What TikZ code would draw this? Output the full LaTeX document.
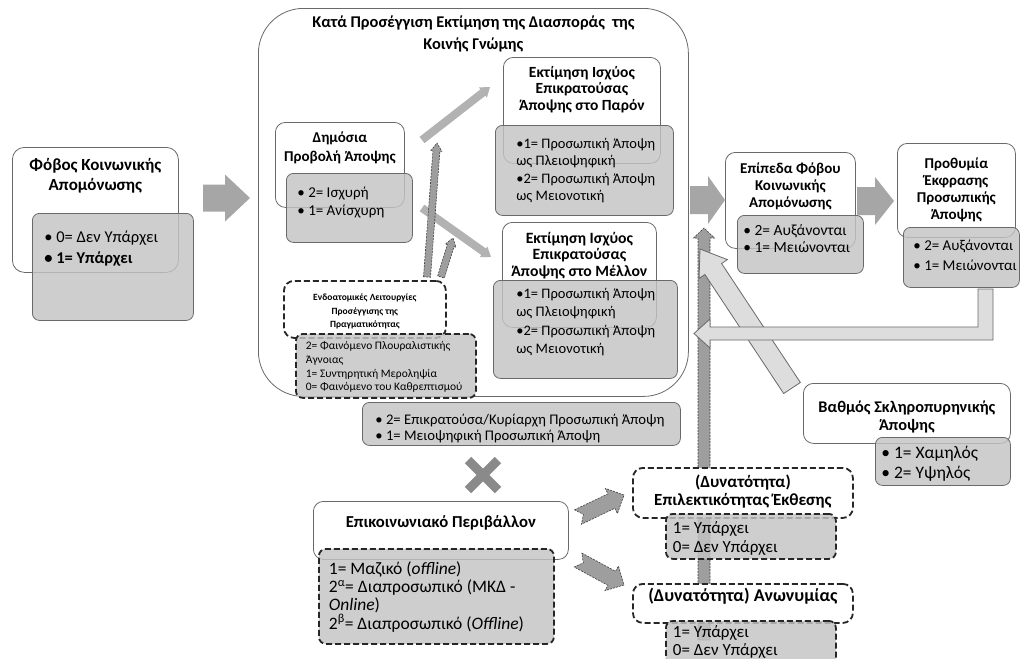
\documentclass[tikz,border=0pt]{standalone}
\usepackage{fontspec}
\setmainfont{Carlito}
\usetikzlibrary{positioning}

\definecolor{edge}{RGB}{105,105,105}
\definecolor{boxgray}{RGB}{196,196,196}
\definecolor{arrgray}{RGB}{166,166,166}
\definecolor{thingray}{RGB}{178,178,178}
\definecolor{dashgray}{RGB}{158,158,158}
\definecolor{lightarr}{RGB}{221,221,221}
\definecolor{xgray}{RGB}{138,138,138}

\newcommand\fs[2]{\fontsize{#1}{#2}\selectfont}
\newcommand\titlebox[4]{\parbox[t][#2pt][t]{#1pt}{\vspace*{#3pt}\centering\strut#4\par}}
\newcommand\itembox[5]{\parbox[t][#2pt][t]{#1pt}{\vspace*{#3pt}\raggedright\leftskip=#4pt\strut#5\par}}
% block arrow: style, from, to, half shaft, half head, head length, notch
\newcommand\blockarr[7]{%
  \pgfpointdiff{\pgfpointanchor{#2}{center}}{\pgfpointanchor{#3}{center}}%
  \pgfgetlastxy\bdx\bdy
  \pgfmathsetmacro\barlen{veclen(\bdx,\bdy)}%
  \pgfmathsetmacro\barang{atan2(\bdy,\bdx)}%
  \path[#1, shift={(#2)}, rotate=\barang]
    (0,-#4) -- (\barlen-#6,-#4) -- (\barlen-#6,-#5) -- (\barlen,0)
    -- (\barlen-#6,#5) -- (\barlen-#6,#4) -- (0,#4) -- (#7,0) -- cycle;}

\begin{document}
\begin{tikzpicture}[x=1pt, y=-1pt,
  wbox/.style={draw=edge, line width=0.8pt, fill=white, rounded corners=10pt,
               inner sep=0pt, anchor=north west},
  gbox/.style={draw=edge, line width=0.8pt, fill=boxgray, fill opacity=0.82,
               text opacity=1, rounded corners=7pt, inner sep=0pt, anchor=north west},
  dbox/.style={draw=black!85, line width=1.8pt, dash pattern=on 6pt off 3pt},
  barr/.style={fill=arrgray},
  tarr/.style={fill=thingray},
  darr/.style={fill=dashgray, draw=black!75, line width=0.6pt, dash pattern=on 2pt off 1.2pt},
  larr/.style={fill=lightarr, draw=edge, line width=0.8pt}
]
\useasboundingbox (0,0) rectangle (1021,659);
\fill[white] (0,0) rectangle (1021,659);

\node[wbox, rounded corners=45pt, font={\fs{16.4}{22}\bfseries}] (spread) at (258,8)
  {\titlebox{430}{388}{3.6}{Κατά Προσέγγιση Εκτίμηση της Διασποράς \ της\\Κοινής Γνώμης}};

\coordinate (fear-o) at (203,198);   \coordinate (spread-i) at (250,198);
\coordinate (spread-o) at (690,200); \coordinate (lvl-i) at (725,200);
\coordinate (lvl-o) at (857,201);    \coordinate (will-i) at (894,201);
\coordinate (pub-a) at (422,140);    \coordinate (now-i) at (490,87);
\coordinate (pub-b) at (422,208);    \coordinate (fut-i) at (491,257);
\coordinate (intra-a) at (427,277);  \coordinate (intra-ae) at (437,143);
\coordinate (intra-b) at (441,277);  \coordinate (intra-be) at (453,238);
\coordinate (anon-o) at (704,640);   \coordinate (lvl-b) at (704,228);
\coordinate (hard-o) at (792,388);   \coordinate (lvl-c) at (700,249);
\coordinate (env-a) at (578,517);    \coordinate (sel-i) at (624,495);
\coordinate (env-b) at (578,560);    \coordinate (anon-i) at (624,585);
\coordinate (cross) at (483,475);

\blockarr{barr}{fear-o}{spread-i}{13.5}{23.5}{25}{0}
\blockarr{barr}{spread-o}{lvl-i}{14}{24}{17}{0}
\blockarr{barr}{lvl-o}{will-i}{14}{24}{19}{0}
\blockarr{tarr}{pub-a}{now-i}{4}{6.5}{9}{0}
\blockarr{tarr}{pub-b}{fut-i}{4}{6.5}{9}{0}
\blockarr{darr}{intra-a}{intra-ae}{3.5}{5.5}{8}{0}
\blockarr{darr}{intra-b}{intra-be}{3.5}{5.5}{8}{0}
\blockarr{darr}{anon-o}{lvl-b}{6}{10.5}{10}{0}
\blockarr{larr}{hard-o}{lvl-c}{10}{17}{24}{0}
\blockarr{darr}{env-a}{sel-i}{8}{14}{14}{6}
\blockarr{darr}{env-b}{anon-i}{8}{14}{14}{6}
\draw[larr] (978,289) -- (993,289) -- (993,340) -- (710,340) -- (710,348)
  -- (694,333.5) -- (710,319) -- (710,327) -- (978,327) -- cycle;
\draw[xgray, line width=9pt] (cross) +(-15,-15) -- +(15,15) +(-15,15) -- +(15,-15);

\node[wbox, rounded corners=12pt, font={\fs{17}{20}\bfseries}] (fear) at (12,147)
  {\titlebox{166}{125}{9}{Φόβος Κοινωνικής\\Απομόνωσης}};
\node[gbox, font={\fs{16.5}{21}}] (fear-v) at (32,213)
  {\itembox{161}{107}{14.3}{12}{• 0= Δεν Υπάρχει\\\textbf{• 1= Υπάρχει}}};

\node[wbox, font={\fs{15}{19}\bfseries}] (pub) at (275,122)
  {\titlebox{129}{85}{6.7}{Δημόσια\\Προβολή Άποψης}};
\node[gbox, font={\fs{15}{18}}] (pub-v) at (286,173)
  {\itembox{126}{69}{11.4}{11}{• 2= Ισχυρή\\• 1= Ανίσχυρη}};

\node[wbox, font={\fs{15.5}{16.5}\bfseries}] (now) at (503,57)
  {\titlebox{157}{106}{8.5}{Εκτίμηση Ισχύος\\Επικρατούσας\\Άποψης στο Παρόν}};
\node[gbox, font={\fs{14.5}{17.3}}] (now-v) at (495,125)
  {\itembox{178}{90}{10.9}{21}{•1= Προσωπική Άποψη\\ως Πλειοψηφική\\•2= Προσωπική Άποψη\\ως Μειονοτική}};

\node[wbox, font={\fs{15.7}{16.5}\bfseries}] (fut) at (502,222)
  {\titlebox{154}{105}{9.5}{Εκτίμηση Ισχύος\\Επικρατούσας\\Άποψης στο Μέλλον}};
\node[gbox, font={\fs{14.5}{18.3}}] (fut-v) at (493,280)
  {\itembox{184}{98}{5.2}{23}{•1= Προσωπική Άποψη\\ως Πλειοψηφική\\•2= Προσωπική Άποψη\\ως Μειονοτική}};

\node[wbox, dbox, font={\fs{9.5}{13.5}\bfseries}] (intra) at (283,280)
  {\titlebox{162}{57}{10.5}{Ενδοατομικές Λειτουργίες\\Προσέγγισης της\\Πραγματικότητας}};
\node[gbox, dbox, font={\fs{11.5}{13.7}}] (intra-v) at (295,333)
  {\itembox{180}{64}{6.4}{10}{2= Φαινόμενο Πλουραλιστικής\\Άγνοιας\\1= Συντηρητική Μεροληψία\\0= Φαινόμενο του Καθρεπτισμού}};

\node[gbox, font={\fs{14.7}{16}}] (dom) at (362,402)
  {\itembox{318}{43}{10.8}{13}{• 2= Επικρατούσα/Κυρίαρχη Προσωπική Άποψη\\• 1= Μειοψηφική Προσωπική Άποψη}};

\node[wbox, font={\fs{15}{17}\bfseries}] (lvl) at (725,152)
  {\titlebox{130}{96}{9.1}{Επίπεδα Φόβου\\Κοινωνικής\\Απομόνωσης}};
\node[gbox, font={\fs{15.5}{17}}] (lvl-v) at (737,215)
  {\itembox{126}{58}{8.1}{6}{• 2= Αυξάνονται\\• 1= Μειώνονται}};

\node[wbox, font={\fs{15}{17}\bfseries}] (will) at (897,143)
  {\titlebox{118}{94}{13.1}{Προθυμία\\Έκφρασης\\Προσωπικής\\Άποψης}};
\node[gbox, font={\fs{15}{20}}] (will-v) at (903,227)
  {\itembox{116}{60}{9}{10}{• 2= Αυξάνονται\\• 1= Μειώνονται}};

\node[wbox, font={\fs{16.3}{18}\bfseries}] (hard) at (803,383)
  {\titlebox{207}{60}{16.4}{Βαθμός Σκληροπυρηνικής\\Άποψης}};
\node[gbox, font={\fs{17.5}{20}}] (hard-v) at (875,437)
  {\itembox{135}{48}{7}{6}{• 1= Χαμηλός\\• 2= Υψηλός}};

\node[wbox, font={\fs{16.7}{19}\bfseries}] (env) at (313,501)
  {\titlebox{255}{58}{12.7}{Επικοινωνιακό Περιβάλλον}};
\node[gbox, dbox, font={\fs{17.5}{18.3}}] (env-v) at (318,548)
  {\itembox{235}{95}{12.4}{10}{1= Μαζικό (\textit{offline})\\2\textsuperscript{α}= Διαπροσωπικό (ΜΚΔ -\\\textit{Online})\\2\textsuperscript{β}= Διαπροσωπικό (\textit{Offline})}};

\node[wbox, dbox, font={\fs{17}{18}\bfseries}] (sel) at (632,467)
  {\titlebox{220}{50}{7.4}{(Δυνατότητα)\\Επιλεκτικότητας Έκθεσης}};
\node[gbox, dbox, font={\fs{17}{19}}] (sel-v) at (665,513)
  {\itembox{170}{45}{6.7}{7}{1= Υπάρχει\\0= Δεν Υπάρχει}};

\node[wbox, dbox, font={\fs{18}{18}\bfseries}] (anon) at (632,583)
  {\titlebox{220}{39}{4.4}{(Δυνατότητα) Ανωνυμίας}};
\node[gbox, dbox, font={\fs{17}{18}}] (anon-v) at (665,620)
  {\itembox{170}{50}{4.4}{7}{1= Υπάρχει\\0= Δεν Υπάρχει}};
\end{tikzpicture}
\end{document}
